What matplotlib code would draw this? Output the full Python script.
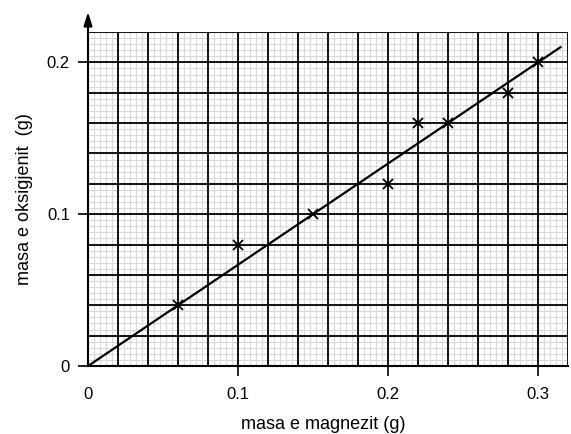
import numpy as np
import matplotlib.pyplot as plt

# measured points
magnez = [0.06, 0.10, 0.15, 0.20, 0.22, 0.24, 0.28, 0.30]
oksigjen = [0.04, 0.08, 0.10, 0.12, 0.16, 0.16, 0.18, 0.20]

# best-fit line through the origin
line_x = [0.0, 0.315]
line_y = [0.0, 0.210]

xticks = [0, 0.1, 0.2, 0.3]
xticklabels = ['0', '0.1', '0.2', '0.3']
yticks = [0, 0.1, 0.2]
yticklabels = ['0', '0.1', '0.2']

plt.rcParams['font.family'] = ['Liberation Sans', 'DejaVu Sans']

fig = plt.figure(figsize=(5.71, 4.34), dpi=100)
ax = fig.add_axes([88/571, 68/434, 480/571, 334/434])
ax.set_xlim(0, 0.32)
ax.set_ylim(0, 0.22)

# graph paper
for v in np.arange(0, 0.3201, 0.004):
    ax.axvline(v, color='#d9d9d9', lw=0.8, zorder=1)
for v in np.arange(0, 0.2201, 0.004):
    ax.axhline(v, color='#d9d9d9', lw=0.8, zorder=1)
for v in np.arange(0.02, 0.3201, 0.02):
    ax.axvline(v, color='#111111', lw=1.4, zorder=2)
for v in np.arange(0.02, 0.2201, 0.02):
    ax.axhline(v, color='#111111', lw=1.4, zorder=2)

ax.plot(line_x, line_y, color='black', lw=1.6, zorder=3)
ax.plot(magnez, oksigjen, 'x', color='black', ms=7, mew=1.3, zorder=4)

for s in ['top', 'right']:
    ax.spines[s].set_visible(False)
ax.spines['left'].set_linewidth(1.5)
ax.spines['bottom'].set_linewidth(1.5)

# arrow on the y axis
ax.annotate('', xy=(0, 1.06), xycoords='axes fraction', xytext=(0, 0.99),
            arrowprops=dict(arrowstyle='-|>,head_width=0.25,head_length=0.8',
                            color='black', lw=1.5, shrinkA=0, shrinkB=0),
            annotation_clip=False)

ax.set_xticks(xticks)
ax.set_xticklabels(xticklabels)
ax.set_yticks(yticks)
ax.set_yticklabels(yticklabels)
ax.tick_params(length=7, width=1.2, labelsize=12)
ax.tick_params(axis='x', pad=8)
ax.tick_params(axis='y', pad=6)
ax.xaxis.get_major_ticks()[0].tick1line.set_visible(False)

ax.set_xlabel('masa e magnezit (g)', fontsize=13, labelpad=10, x=0.49)
ax.set_ylabel('masa e oksigjenit  (g)', fontsize=13, labelpad=10)

fig.savefig('out.png', dpi=100)
